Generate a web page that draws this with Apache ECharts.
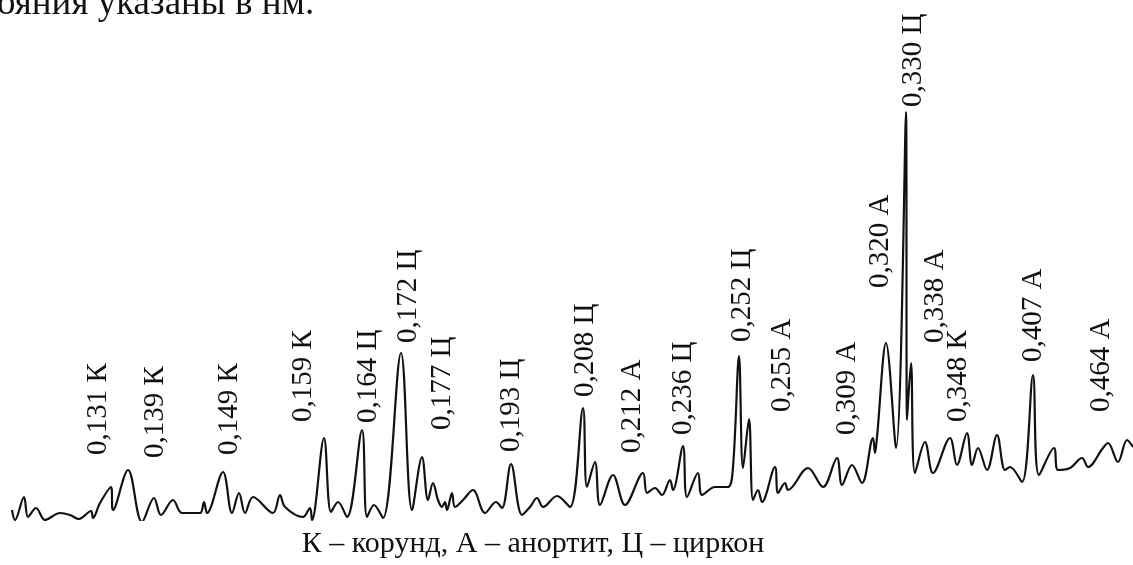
<!DOCTYPE html>
<html>
<head>
<meta charset="utf-8">
<script src="https://cdn.jsdelivr.net/npm/echarts@6/dist/echarts.min.js"></script>
<style>
html,body{margin:0;padding:0;background:#fff;}
#chart{width:1133px;height:565px;}
</style>
</head>
<body>
<div id="chart"></div>
<script>
// Diffractogram trace: position along the scan and intensity (arbitrary units)
const scanPos = [12,15,24,28,36,45,60,70,79,91,93,100,111,113,128,142,154,161,173,182,200,204,207,223,232,239,245,253,273,280,285,303,310,312,324,331,338,347,362,367,374,383,401,412,422,428,433,438,442,445,447,452,455,463,473,485,496,502,511,522,530,537,543,557,570,583,587,595,600,613,625,643,647,655,662,670,673,683,687,698,702,715,728,733,739,743,749,753,758,762,775,778,785,788,808,823,837,842,852,862,873,875,877,886,896,906,907,911,915,925,933,950,957,967,972,978,987,997,1005,1010,1022,1033,1039,1054,1058,1070,1082,1088,1103,1108,1118,1127,1133];
const intensity = [10,0,23,3,12,0,7,5,1,9,2,17,33,10,50,-2,22,5,20,7,7,18,7,48,7,27,7,23,7,25,13,3,12,0,82,8,18,3,90,3,15,2,167,10,63,20,37,20,13,18,10,27,13,20,30,7,18,12,56,5,13,22,13,24,13,112,33,58,15,45,15,47,27,32,25,40,30,74,23,47,25,33,33,53,164,52,101,20,30,18,53,27,37,30,52,33,62,35,55,37,82,67,83,177,72,408,100,157,47,78,47,82,55,87,55,72,50,85,50,53,38,145,45,72,50,52,62,53,72,77,58,80,73];

// Peak annotations: interplanar distance + phase, scan position, label start height
const peakLabels = ["0,131 К","0,139 К","0,149 К","0,159 К","0,164 Ц","0,172 Ц","0,177 Ц","0,193 Ц","0,208 Ц","0,212 А","0,236 Ц","0,252 Ц","0,255 А","0,309 А","0,320 А","0,330 Ц","0,338 А","0,348 К","0,407 А","0,464 А"];
const peakPos = [98,155,229,303,368,408,442,511,585,632,683,742,782,847,880,913,935,958,1033,1101];
const labelBase = [65,62,65,98,97,177,90,68,123,67,85,178,108,85,232,413,177,98,158,108];

const caption = "К – корунд, А – анортит, Ц – циркон";
const topText = "ояния указаны в нм.";

const FONT = "'Liberation Serif','Times New Roman',serif";
const chart = echarts.init(document.getElementById('chart'), null, {renderer:'canvas'});

chart.setOption({
  backgroundColor:'#ffffff',
  animation:false,
  grid:{left:0,right:0,top:0,bottom:45},
  xAxis:{type:'value',min:0,max:1133,show:false},
  yAxis:{type:'value',min:0,max:520,show:false},
  graphic:[
    {type:'text',x:-3,y:-14,style:{text:topText,font:"37px "+FONT,fill:'#111111',verticalAlign:'top'}},
    {type:'text',x:533,y:559,style:{text:caption,font:"30px "+FONT,fill:'#111111',align:'center',verticalAlign:'bottom'}}
  ],
  series:[
    {
      type:'line',
      data:scanPos.map((x,i)=>[x,intensity[i]]),
      showSymbol:false,
      smooth:0.35,
      lineStyle:{color:'#111111',width:2.2},
      silent:true
    },
    {
      type:'scatter',
      data:peakPos.map((x,i)=>[x,labelBase[i]]),
      symbolSize:0,
      silent:true,
      itemStyle:{opacity:1},
      label:{
        show:true,
        position:[0,0],
        rotate:90,
        align:'left',
        verticalAlign:'middle',
        fontFamily:FONT,
        fontSize:29,
        color:'#111111',
        opacity:1,
        textBorderWidth:0,
        formatter:p=>peakLabels[p.dataIndex]
      }
    }
  ]
});
</script>
</body>
</html>
